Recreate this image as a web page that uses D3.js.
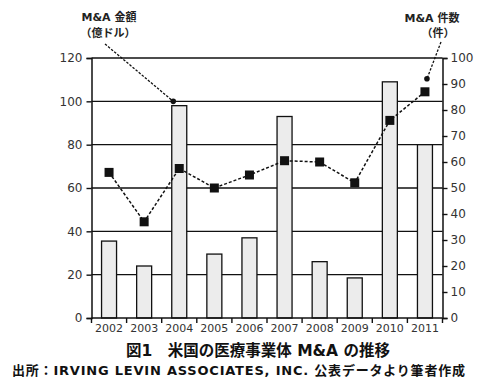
<!DOCTYPE html>
<html>
<head>
<meta charset="utf-8">
<script src="https://cdn.jsdelivr.net/npm/d3@7"></script>
<style>
html,body{margin:0;padding:0;background:#fff;}
svg{display:block;}
</style>
</head>
<body>
<svg id="chart" width="478" height="385"></svg>
<script>
const years = ["2002","2003","2004","2005","2006","2007","2008","2009","2010","2011"];
const amount = [35.5, 24, 98, 29.5, 37, 93, 26, 18.5, 109, 80];   // M&A 金額（億ドル）bars, left axis
const deals = [56, 37, 57.5, 50, 55, 60.5, 60, 52, 76, 87];      // M&A 件数（件）line, right axis
const leftTicks = [0, 20, 40, 60, 80, 100, 120];
const rightTicks = [0, 10, 20, 30, 40, 50, 60, 70, 80, 90, 100];
const title = "図1　米国の医療事業体 M&A の推移";
const source = "出所：IRVING LEVIN ASSOCIATES, INC. 公表データより筆者作成";

const svg = d3.select("#chart");
const X0 = 91.5, X1 = 442.5, Y0 = 318, Y1 = 58;
const font = "'DejaVu Sans', 'Noto Sans CJK JP', sans-serif";

const x = d3.scaleBand().domain(years).range([X0, X1]).padding(0);
const yL = d3.scaleLinear().domain([0, 120]).range([Y0, Y1]);
const yR = d3.scaleLinear().domain([0, 100]).range([Y0, Y1]);

// gridlines
svg.append("g").selectAll("line").data(leftTicks.filter(d => d > 0)).join("line")
  .attr("x1", X0).attr("x2", X1)
  .attr("y1", d => yL(d)).attr("y2", d => yL(d))
  .attr("stroke", "#111").attr("stroke-width", 1.4);

// bars
const bw = 15;
svg.append("g").selectAll("rect").data(years).join("rect")
  .attr("x", d => x(d) + x.bandwidth() / 2 - bw / 2)
  .attr("y", (d, i) => yL(amount[i]))
  .attr("width", bw)
  .attr("height", (d, i) => Y0 - yL(amount[i]))
  .attr("fill", "#ececec").attr("stroke", "#111").attr("stroke-width", 1.3);

// left axis
const gL = svg.append("g").attr("transform", `translate(${X0},0)`)
  .call(d3.axisLeft(yL).tickValues(leftTicks).tickSize(5).tickPadding(4));
// right axis
const gR = svg.append("g").attr("transform", `translate(${X1},0)`)
  .call(d3.axisRight(yR).tickValues(rightTicks).tickSize(5).tickPadding(3));
[gL, gR].forEach(g => {
  g.select(".domain").attr("stroke", "#111").attr("stroke-width", 1.5);
  g.selectAll(".tick line").attr("stroke", "#111").attr("stroke-width", 1.4);
  g.selectAll(".tick text").attr("font-family", font).attr("font-size", 12).attr("fill", "#333");
});

// bottom axis
const gB = svg.append("g").attr("transform", `translate(0,${Y0})`)
  .call(d3.axisBottom(x).tickSize(0).tickPadding(6));
gB.select(".domain").remove();
gB.selectAll(".tick text").attr("font-family", font).attr("font-size", 11).attr("fill", "#333");
svg.append("line").attr("x1", X0).attr("x2", X1).attr("y1", Y0).attr("y2", Y0)
  .attr("stroke", "#111").attr("stroke-width", 1.5);
const bounds = years.map(d => x(d)).concat([X1]);
svg.append("g").selectAll("line").data(bounds).join("line")
  .attr("x1", d => d).attr("x2", d => d).attr("y1", Y0).attr("y2", Y0 + 5)
  .attr("stroke", "#111").attr("stroke-width", 1.4);

// line of deals
const line = d3.line().x((d, i) => x(years[i]) + x.bandwidth() / 2).y(d => yR(d));
svg.append("path").datum(deals).attr("d", line)
  .attr("fill", "none").attr("stroke", "#111").attr("stroke-width", 1.5)
  .attr("stroke-dasharray", "3,2");
svg.append("g").selectAll("rect").data(deals).join("rect")
  .attr("x", (d, i) => x(years[i]) + x.bandwidth() / 2 - 4.5)
  .attr("y", d => yR(d) - 4.5)
  .attr("width", 9).attr("height", 9).attr("fill", "#111");

// annotations
const ann = [
  {x: 109, y: 21, t: "M&A 金額"},
  {x: 108, y: 37, t: "（億ドル）"},
  {x: 432, y: 22, t: "M&A 件数"},
  {x: 438, y: 37, t: "（件）"}
];
svg.append("g").selectAll("text").data(ann).join("text")
  .attr("x", d => d.x).attr("y", d => d.y).attr("text-anchor", "middle")
  .attr("font-family", font).attr("font-size", 11).attr("font-weight", "bold").attr("fill", "#222")
  .text(d => d.t);

// leaders
const leaders = [
  {x1: 105, y1: 44, x2: x("2004") + x.bandwidth() / 2 - 6, y2: yL(100)},
  {x1: 441, y1: 42, x2: x("2011") + x.bandwidth() / 2 + 2, y2: yR(92)}
];
svg.append("g").selectAll("line").data(leaders).join("line")
  .attr("x1", d => d.x1).attr("y1", d => d.y1).attr("x2", d => d.x2).attr("y2", d => d.y2)
  .attr("stroke", "#111").attr("stroke-width", 1.3).attr("stroke-dasharray", "2.5,1.5");
svg.append("g").selectAll("circle").data(leaders).join("circle")
  .attr("cx", d => d.x2).attr("cy", d => d.y2).attr("r", 2.8).attr("fill", "#111");

// captions
svg.append("text").attr("x", 258).attr("y", 356).attr("text-anchor", "middle")
  .attr("font-family", font).attr("font-size", 15.5).attr("font-weight", "bold").attr("fill", "#111")
  .text(title);
svg.append("text").attr("x", 12).attr("y", 375)
  .attr("font-family", font).attr("font-size", 13).attr("font-weight", "bold").attr("fill", "#111")
  .attr("textLength", 453).text(source);
</script>
</body>
</html>
